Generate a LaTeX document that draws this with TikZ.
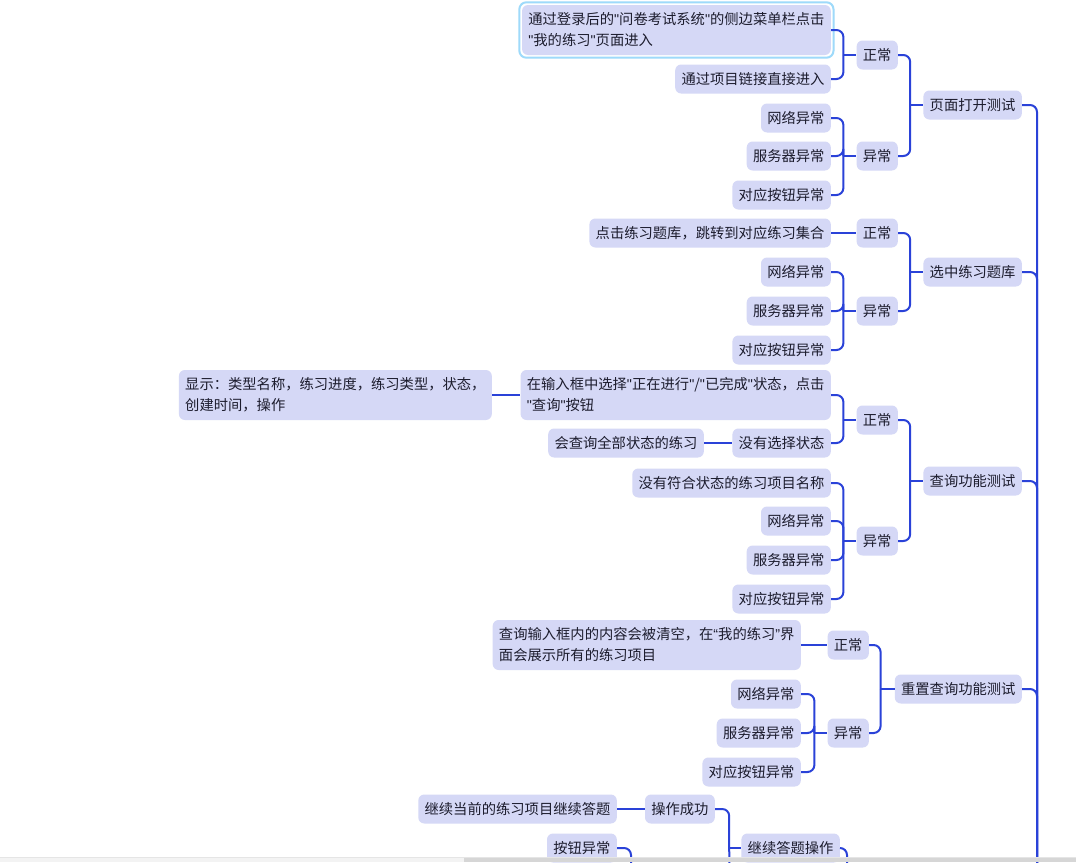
\documentclass[tikz,border=0pt]{standalone}
\usepackage{fontspec}
\setmainfont{Noto Sans CJK SC}
\newfontfamily\latq{Liberation Sans}
\usetikzlibrary{calc}
\definecolor{boxfill}{RGB}{213,216,246}
\definecolor{linec}{RGB}{42,66,216}
\definecolor{txtc}{RGB}{28,28,45}
\definecolor{hlc}{RGB}{158,218,250}
\definecolor{trackc}{RGB}{243,243,243}
\definecolor{thumbc}{RGB}{214,214,214}
\newcommand\mmsq{{\latq\char"22}}
\newcommand\mmlq{{\latq “}}
\newcommand\mmrq{{\latq ”}}
\tikzset{
  mmbox/.style={fill=boxfill, rounded corners=6pt, inner xsep=6.3pt, inner ysep=0pt,
    minimum height=29pt, text=txtc, font=\fontsize{14.3pt}{21pt}\selectfont, align=left, anchor=east},
  conn/.style={draw=linec, line width=2pt, rounded corners=7pt},
}
\newcommand\mmbrk[3]{% child, parent, offset
  \draw[conn] (#1.east) -| ($(#2.west)+(-#3,0)$);
  \draw[conn] ($(#2.west)+(-#3,0)$) -- (#2.west);}
\begin{document}
\begin{tikzpicture}[x=1pt,y=-1pt]
\clip (0,0) rectangle (1076,862);
\fill[white] (0,0) rectangle (1076,862);

% level 1
\node[mmbox] (L1a) at (1022,105) {页面打开测试};
\node[mmbox] (L1b) at (1022,272) {选中练习题库};
\node[mmbox] (L1c) at (1022,481) {查询功能测试};
\node[mmbox] (L1d) at (1022,689) {重置查询功能测试};

% level 2
\node[mmbox] (aok) at (898,55) {正常};
\node[mmbox] (aerr) at (898,156) {异常};
\node[mmbox] (bok) at (898,233) {正常};
\node[mmbox] (berr) at (898,311) {异常};
\node[mmbox] (cok) at (898,420) {正常};
\node[mmbox] (cerr) at (898,541) {异常};
\node[mmbox] (dok) at (869,645) {正常};
\node[mmbox] (derr) at (869,733) {异常};

% level 3
\node[mmbox, minimum height=50pt] (a1) at (831,30) {通过登录后的\mmsq 问卷考试系统\mmsq 的侧边菜单栏点击\\\mmsq 我的练习\mmsq 页面进入};
\draw[hlc, line width=2pt, rounded corners=7pt] ($(a1.south west)+(-2.5,2.5)$) rectangle ($(a1.north east)+(2.5,-2.5)$);
\node[mmbox] (a2) at (831,79) {通过项目链接直接进入};
\node[mmbox] (a3) at (831,118) {网络异常};
\node[mmbox] (a4) at (831,156) {服务器异常};
\node[mmbox] (a5) at (831,195) {对应按钮异常};

\node[mmbox] (b1) at (831,233) {点击练习题库，跳转到对应练习集合};
\node[mmbox] (b2) at (831,272) {网络异常};
\node[mmbox] (b3) at (831,311) {服务器异常};
\node[mmbox] (b4) at (831,350) {对应按钮异常};

\node[mmbox, minimum height=50pt] (c1) at (831,395) {在输入框中选择\mmsq 正在进行\mmsq /\mmsq 已完成\mmsq 状态，点击\\\mmsq 查询\mmsq 按钮};
\node[mmbox] (c2) at (831,443) {没有选择状态};
\node[mmbox] (c3) at (831,483) {没有符合状态的练习项目名称};
\node[mmbox] (c4) at (831,521) {网络异常};
\node[mmbox] (c5) at (831,560) {服务器异常};
\node[mmbox] (c6) at (831,599) {对应按钮异常};

\node[mmbox, minimum height=50pt] (d1) at (801,645) {查询输入框内的内容会被清空，在\mmlq 我的练习\mmrq 界\\面会展示所有的练习项目};
\node[mmbox] (d2) at (801,694) {网络异常};
\node[mmbox] (d3) at (801,733) {服务器异常};
\node[mmbox] (d4) at (801,772) {对应按钮异常};

% level 4
\node[mmbox, minimum height=50pt] (c1a) at (492,395) {显示：类型名称，练习进度，练习类型，状态，\\创建时间，操作};
\node[mmbox] (c2a) at (704,443) {会查询全部状态的练习};

% bottom
\node[mmbox] (e1) at (617,809) {继续当前的练习项目继续答题};
\node[mmbox] (e2) at (715,809) {操作成功};
\node[mmbox] (e3) at (840,848) {继续答题操作};
\node[mmbox] (e4) at (617,848) {按钮异常};

% trunk
\coordinate (trunk) at (1037,920);
\foreach \n in {L1a,L1b,L1c,L1d} \draw[conn] (\n.east) -| (trunk);

% level2 -> level1
\mmbrk{aok}{L1a}{13} \mmbrk{aerr}{L1a}{13}
\mmbrk{bok}{L1b}{13} \mmbrk{berr}{L1b}{13}
\mmbrk{cok}{L1c}{13} \mmbrk{cerr}{L1c}{13}
\mmbrk{dok}{L1d}{14} \mmbrk{derr}{L1d}{14}

% level3 -> level2
\mmbrk{a1}{aok}{13} \mmbrk{a2}{aok}{13}
\mmbrk{a3}{aerr}{13} \mmbrk{a4}{aerr}{13} \mmbrk{a5}{aerr}{13}
\draw[conn] (b1.east) -- (bok.west);
\mmbrk{b2}{berr}{13} \mmbrk{b3}{berr}{13} \mmbrk{b4}{berr}{13}
\mmbrk{c1}{cok}{13} \mmbrk{c2}{cok}{13}
\mmbrk{c3}{cerr}{13} \mmbrk{c4}{cerr}{13} \mmbrk{c5}{cerr}{13} \mmbrk{c6}{cerr}{13}
\draw[conn] (d1.east) -- (dok.west);
\mmbrk{d2}{derr}{13} \mmbrk{d3}{derr}{13} \mmbrk{d4}{derr}{13}

% level4
\draw[conn] (c1a.east) -- (c1.west);
\draw[conn] (c2a.east) -- (c2.west);

% bottom connectors
\draw[conn] (e1.east) -- (e2.west);
\mmbrk{e2}{e3}{12}
\coordinate (e3j) at ($(e3.west)+(-12,0)$);
\coordinate (e3low) at (730,920);
\draw[conn] (e3j) -- (e3low);
\coordinate (e3up) at (847,920);
\draw[conn] (e3.east) -| (e3up);
\coordinate (e4up) at (631,920);
\draw[conn] (e4.east) -| (e4up);

% scrollbar
\fill[trackc] (0,857.5) rectangle (1076,862);
\draw[black!10, line width=0.6pt] (0,857.5) -- (1076,857.5);
\fill[thumbc] (464,858) rectangle (1076,862);
\end{tikzpicture}
\end{document}
